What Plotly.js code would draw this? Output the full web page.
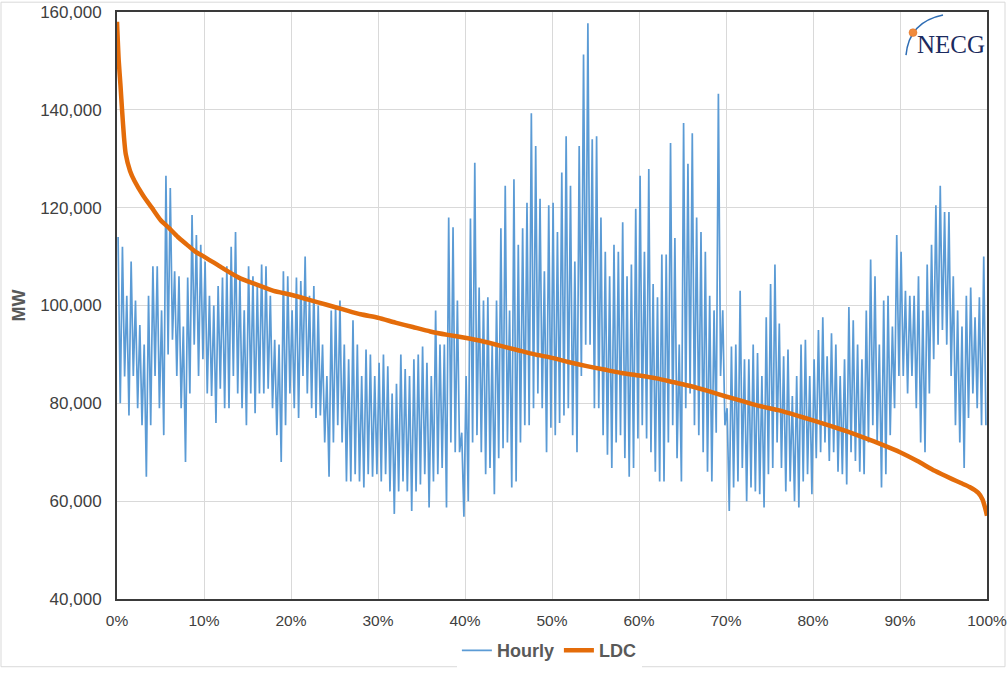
<!DOCTYPE html>
<html><head><meta charset="utf-8">
<script src="https://cdn.plot.ly/plotly-3.0.1.min.js"></script>
<style>html,body{margin:0;padding:0;background:#fff}#chart{width:1007px;height:681px}</style>
</head><body><div id="chart"></div>
<script>
// Hourly load: daily peak / trough envelope read per 0.5% of hours (200 bins)
const hourlyHigh = [
 114000,112000,102000,109000,101000,96000,92000,102000,108000,108000,
 99000,126500,124000,107000,106000,95700,105700,118500,114400,112400,
 109000,102000,100000,104000,105700,
 108000,112000,115000,105700,99000,108000,106000,104000,108400,108000,
 102000,93000,92000,107000,106000,99000,105700,105000,110000,102000,
 104000,100000,92000,85600,99000,
 100000,101000,92000,89000,97000,92000,85600,91000,90000,85600,
 88300,90000,87600,82000,84000,90000,87000,85600,89000,90000,
 91600,88300,85600,99000,92000,92000,
 118000,116000,101000,74000,85600,117800,129200,103700,101000,101700,
 92000,101000,115800,124500,99000,125800,112400,115800,121000,139300,
 132600,121800,107000,120500,
 121000,115000,127200,134600,124500,109000,132600,151300,157700,134000,
 134600,118000,111000,106000,112400,111000,117000,106000,108400,119800,
 126500,111000,127900,104400,101700,110400,
 110400,133200,113800,92000,137300,129000,135200,118000,115000,111000,
 102000,99000,143300,99000,79000,91600,92000,103000,89000,89000,
 92000,90300,85600,97600,104400,
 108400,96300,89600,91000,81500,85600,92000,93000,85600,89000,
 95000,97600,89600,94300,92000,85600,89000,99700,97000,92000,
 89000,99000,109400,106000,92000,101000,
 102000,95700,114400,111000,103000,102000,102000,106000,99000,108400,
 112400,120500,124500,119100,119100,106000,99000,95700,102000,103700,
 97600,101700,110000
];
const hourlyLow = [
 80000,85500,77500,85600,79000,75500,65000,75500,85600,79000,
 73500,90000,93000,85600,79000,68000,82000,92000,85600,89000,
 82000,81500,76000,83000,79000,
 79000,85600,82000,79000,75500,82000,78000,82000,82000,83000,
 79000,73500,68000,75500,82000,79000,77000,85600,82000,79000,
 77000,77500,72000,65000,72000,
 75500,72000,64000,64000,65500,64000,62800,65500,65000,65500,
 64000,65500,62000,57400,62000,64000,62000,58000,62000,63400,
 65500,58700,64000,65500,66800,58700,
 72000,70000,70000,56800,60000,72000,73500,70000,65500,66800,
 61400,68800,70800,72000,62800,64000,72000,75500,75500,79000,
 82000,79000,70000,75000,
 73500,76000,77500,79000,73500,70000,85600,92000,92000,79000,
 79000,73500,69500,66800,72000,73500,68800,65000,66800,72800,
 75500,72800,70000,66000,64000,64000,
 72000,75500,68800,64000,79000,82000,75500,73500,70000,66000,
 64000,74000,85600,75500,58000,62800,64000,66800,60000,62800,
 62000,61400,58700,65500,66800,
 72000,66800,62000,64000,60000,58700,64000,65500,61400,68800,
 70000,72000,68200,70000,66000,65500,63400,70000,68200,66000,
 65500,72000,75500,72000,62800,65500,
 73500,79000,85600,85600,82000,85600,79000,72000,70000,82000,
 89000,92000,95000,92000,85600,75500,72000,66800,77000,82000,
 79000,75500,75500
];
// Load duration curve
const ldcPct = [0,0.2,0.4,0.6,0.8,1,1.5,2,3,4,5,6,7,8,9,10,12,14,16,18,20,22,24,26,28,30,32,34,36,38,40,42,44,46,48,50,52,54,56,58,60,62,64,66,68,70,72,74,76,78,80,82,84,86,88,90,92,94,96,97,98,99,99.5,99.8,100];
const ldcMW = [158000,150000,145000,139500,134500,131000,127500,125500,122500,120000,117500,115800,114000,112500,111000,110000,107800,105700,104300,103000,102200,101200,100200,99200,98200,97500,96500,95600,94700,94000,93400,92700,91800,90900,90000,89300,88400,87600,86900,86200,85700,85100,84300,83500,82500,81400,80400,79400,78600,77600,76500,75400,74200,72900,71500,70000,68200,66200,64500,63700,62900,61700,60300,58500,57000];
const xTickVals = [0,10,20,30,40,50,60,70,80,90,100];
const yTickVals = [40000,60000,80000,100000,120000,140000,160000];

const hx = [], hy = [];
for (let i = 0; i < hourlyHigh.length; i++) {
  hx.push(i * 0.5 + 0.125, i * 0.5 + 0.375);
  hy.push(hourlyHigh[i], hourlyLow[i]);
}

const traces = [
  {x: hx, y: hy, type: 'scatter', mode: 'lines', name: 'Hourly',
   line: {color: '#5B9BD5', width: 1.7}},
  {x: ldcPct, y: ldcMW, type: 'scatter', mode: 'lines', name: 'LDC',
   line: {color: '#E46C0A', width: 4.5, shape: 'spline', smoothing: 0.6}}
];

const px = v => (v - 117) / 870;
const py = v => (610 - v) / 598;

const layout = {
  width: 1007, height: 681,
  margin: {l: 117, r: 20, t: 12, b: 71},
  paper_bgcolor: '#ffffff', plot_bgcolor: '#ffffff',
  font: {family: 'Liberation Sans, Arial, sans-serif', color: '#404040', size: 17},
  showlegend: true,
  legend: {orientation: 'h', x: 0.497, xanchor: 'center', y: -0.088, yanchor: 'middle',
    font: {family: 'Liberation Sans, Arial, sans-serif', size: 18, color: '#595959', weight: 'bold'},
    itemwidth: 30, tracegroupgap: 0},
  xaxis: {range: [0, 100], tickvals: xTickVals, ticktext: xTickVals.map(v => v + '%'),
    ticklabeloverflow: 'allow',
    showgrid: true, gridcolor: '#D9D9D9', gridwidth: 1, zeroline: false,
    showline: true, linecolor: '#3A3A3A', linewidth: 2, mirror: true,
    ticks: 'outside', ticklen: 6, tickcolor: 'rgba(0,0,0,0)',
    tickfont: {size: 15.5, color: '#404040'}},
  yaxis: {range: [40000, 160000], tickvals: yTickVals, tickformat: ',d',
    showgrid: true, gridcolor: '#D9D9D9', gridwidth: 1, zeroline: false,
    showline: true, linecolor: '#3A3A3A', linewidth: 2, mirror: true,
    ticks: 'outside', ticklen: 10, tickcolor: 'rgba(0,0,0,0)',
    tickfont: {size: 17, color: '#404040'},
    title: {text: 'MW', font: {size: 18, color: '#595959', weight: 'bold'}, standoff: 10}},
  shapes: [
    {type: 'rect', xref: 'paper', yref: 'paper', x0: px(1), x1: px(1005), y0: py(679), y1: py(2),
     line: {color: '#D9D9D9', width: 1}, layer: 'below'},
    {type: 'path', xref: 'paper', yref: 'paper',
     path: `M ${px(906)},${py(56)} Q ${px(909)},${py(22)} ${px(943)},${py(15)}`,
     line: {color: '#2E6DB4', width: 1.5}},
    {type: 'circle', xref: 'paper', yref: 'paper', x0: px(909), x1: px(917), y0: py(37), y1: py(29),
     fillcolor: '#F08A3C', line: {color: '#E07020', width: 0.5}}
  ],
  annotations: [
    {xref: 'paper', yref: 'paper', x: px(951), y: py(45), xanchor: 'center', yanchor: 'middle',
     text: 'NECG', showarrow: false,
     font: {family: 'Liberation Serif, Times New Roman, serif', size: 25, color: '#1B2A5E'}}
  ]
};

Plotly.newPlot('chart', traces, layout, {displayModeBar: false, staticPlot: true});
</script>
</body></html>
